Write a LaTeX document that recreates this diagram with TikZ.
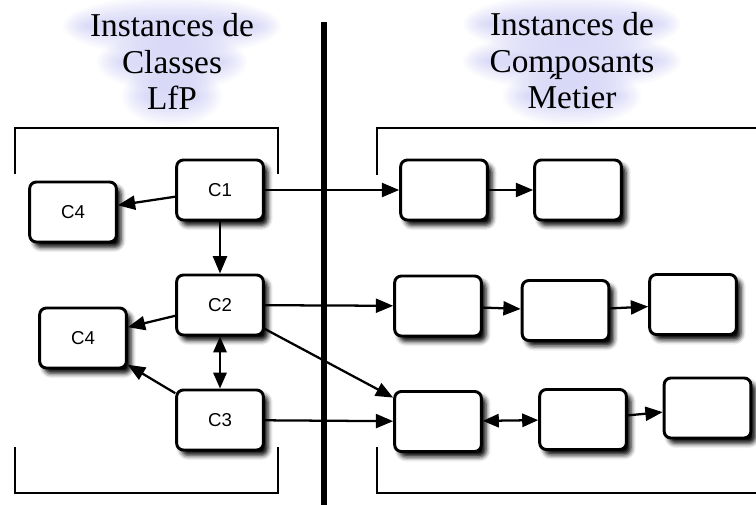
\documentclass[tikz,border=0pt]{standalone}
\usepackage{fontspec}
\setmainfont{Liberation Serif}
\newfontfamily\boxfont{Liberation Sans}
\usetikzlibrary{arrows.meta,shadows.blur}
\definecolor{glowc}{RGB}{180,180,240}
\tikzset{every picture/.style={line width=0.75pt}}
\tikzset{
	inst/.style={draw, line width=2.2pt, rounded corners=5pt, fill=white,
		minimum width=65pt, minimum height=45pt, inner sep=0pt,
		font=\boxfont\fontsize{14}{16}\selectfont,
		blur shadow={shadow xshift=3.5pt, shadow yshift=-4pt, shadow blur radius=3.5pt, shadow opacity=100}},
	link/.style={line width=1.7pt, -{Triangle[length=13pt,width=10.5pt]}},
	dlink/.style={line width=1.7pt, {Triangle[length=12pt,width=10pt]}-{Triangle[length=12pt,width=10pt]}},
	title/.style={align=center, inner sep=0pt, font=\fontsize{25}{27.4}\selectfont},
	bracket/.style={line width=2pt}
}
% soft glow behind one line of title text: x, y, half width
\newcommand{\glowline}[3]{%
	\foreach \k in {1,...,12}
		\fill[glowc, fill opacity=0.05] (#1,#2) ellipse ({#3+\k*2} and {6+\k*2});
}

\begin{document}
\begin{tikzpicture}[x=0.75pt,y=0.75pt,yscale=-1]
	\useasboundingbox (0,0) rectangle (756,505);

	% glow behind the titles
	\glowline{172}{26}{85}
	\glowline{172}{62}{51}
	\glowline{172}{96}{26}
	\glowline{572}{24}{85}
	\glowline{572}{61}{85}
	\glowline{572}{96}{45}

	% titles
	\node[title, anchor=north] (lfp) at (172,13) {Instances de\\Classes\\LfP};
	\node[title, anchor=north] (metier) at (572,12) {Instances de\\Composants\\Metier};
	\node[font=\fontsize{25}{27.4}\selectfont, inner sep=0pt] (acute) at (553,86) {´};

	% separator
	\draw[line width=4pt] (324,22) -- (324,505);

	% brackets
	\draw[bracket] (15,174) -- (15,128) -- (278,128) -- (278,174);
	\draw[bracket] (15,447) -- (15,493) -- (278,493) -- (278,447);
	\draw[bracket] (377,175) -- (377,128) -- (756,128);
	\draw[bracket] (377,447) -- (377,493) -- (756,493);

	% class instances
	\node[inst] (c1) at (220,190) {C1};
	\node[inst] (c4a) at (73,212) {C4};
	\node[inst] (c2) at (220,305) {C2};
	\node[inst] (c4b) at (83,338) {C4};
	\node[inst] (c3) at (220,420) {C3};

	% component instances
	\node[inst] (m11) at (444,190) {};
	\node[inst] (m12) at (578,190) {};
	\node[inst] (m21) at (438,306) {};
	\node[inst] (m22) at (565.5,310.5) {};
	\node[inst] (m23) at (693,304.5) {};
	\node[inst] (m31) at (438,421.5) {};
	\node[inst] (m32) at (583,419.5) {};
	\node[inst] (m33) at (707.5,408) {};

	% links
	\draw[link] (c1) -- (c4a);
	\draw[link] (c1) -- (c2);
	\draw[link] (c2) -- (c4b);
	\draw[link] (c3) -- (c4b);
	\draw[dlink] (c2) -- (c3);
	\draw[link] (c1.east) -- (m11.west);
	\draw[link] (m11) -- (m12);
	\draw[link] (c2) -- (m21);
	\draw[link] (m21) -- (m22);
	\draw[link] (m22) -- (m23);
	\draw[link] (c2) -- (m31);
	\draw[link] (c3) -- (m31);
	\draw[dlink] (m31) -- (m32);
	\draw[link] (m32) -- (m33);

\end{tikzpicture}
\end{document}
